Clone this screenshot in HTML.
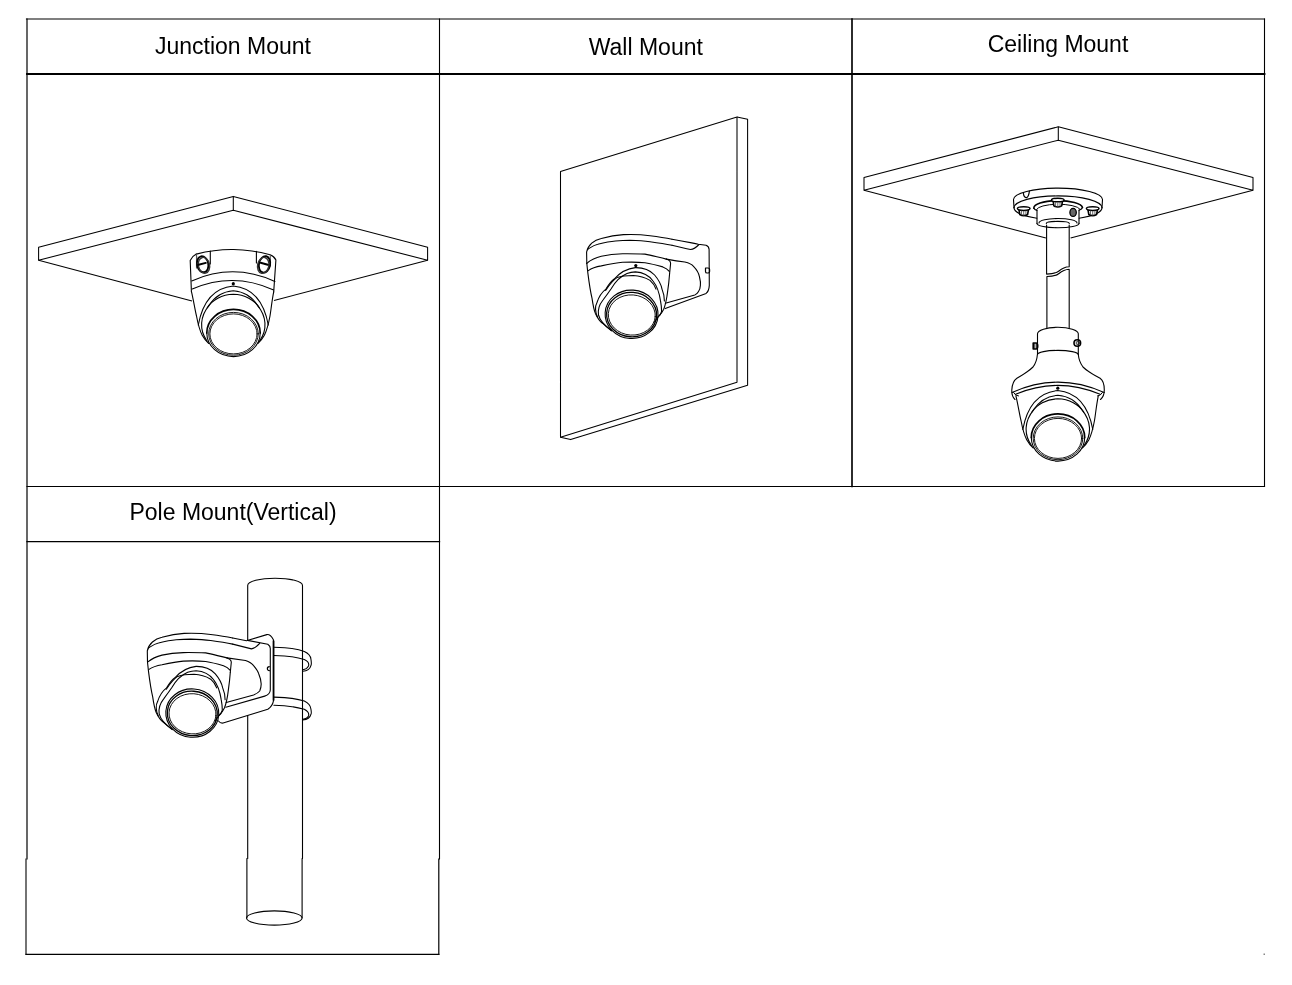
<!DOCTYPE html>
<html><head><meta charset="utf-8">
<style>
html,body{margin:0;padding:0;background:#fff;width:1292px;height:985px;overflow:hidden}
svg{position:absolute;left:0;top:0}
text{font-family:"Liberation Sans",sans-serif;font-size:23px;fill:#000}
.txt{will-change:transform}
</style></head><body>
<svg width="1292" height="985" viewBox="0 0 1292 985">
<g fill="none" stroke="#000" stroke-linecap="square">
<!-- table -->
<line x1="26.5" y1="19" x2="1264.5" y2="19" stroke-width="1.15"/>
<line x1="27" y1="19" x2="27" y2="859" stroke-width="1.2"/>
<line x1="26" y1="859" x2="26" y2="954.3" stroke-width="1.1"/>
<line x1="439.5" y1="19" x2="439.5" y2="859" stroke-width="1.1"/>
<line x1="438.8" y1="859" x2="438.8" y2="954.3" stroke-width="1.2"/>
<line x1="852" y1="19" x2="852" y2="486.5" stroke-width="1.65"/>
<line x1="1264.5" y1="19" x2="1264.5" y2="486.5" stroke-width="1.1"/>
<line x1="27" y1="74" x2="1264.5" y2="74" stroke-width="1.85"/>
<line x1="27" y1="486.5" x2="1264.5" y2="486.5" stroke-width="1.1"/>
<line x1="27" y1="541.7" x2="439.5" y2="541.7" stroke-width="1.3"/>
<line x1="26" y1="954.3" x2="438.8" y2="954.3" stroke-width="1.2"/>
</g>
<g class="txt"><text x="233" y="54" text-anchor="middle">Junction Mount</text>
<text x="645.8" y="54.5" text-anchor="middle">Wall Mount</text>
<text x="1058" y="52.2" text-anchor="middle">Ceiling Mount</text>
<text x="233" y="520" text-anchor="middle">Pole Mount(Vertical)</text></g>
<rect x="1263.5" y="953.5" width="1.5" height="1.5" fill="#888"/>

<g id="plates" fill="none" stroke="#000" stroke-width="1.05" stroke-linejoin="round">
<!-- junction plate -->
<path d="M38.6,260.3 L38.6,247.3 L233.3,196.4 L427.6,247.3 L427.6,260.3 L233.3,210.2 Z"/>
<path d="M233.3,196.4 V210.2"/>
<path d="M38.6,260.3 L192,301"/>
<path d="M427.6,260.3 L274,300.5"/>
<!-- wall plate -->
<path d="M560.5,437.3 V171.5 L737,117 V382.3 Z"/>
<path d="M737,117 L747.6,119.2 V385.2 L570.6,439.6 L560.5,437.3"/>
<!-- ceiling plate -->
<path d="M864,190.3 V177.5 L1058.3,126.8 L1253,177.5 V190.3 L1058.3,140.2 Z"/>
<path d="M1058.3,126.8 V140.2"/>
<path d="M864,190.3 L1045.9,237.9"/>
<path d="M1253,190.3 L1070.6,237.9"/>
</g>

<g id="cam1" fill="none" stroke="#000" stroke-width="1.1" stroke-linecap="round" stroke-linejoin="round">
<!-- junction box -->
<path d="M191.4,291.3 L190.2,260.5 Q192,256.3 196.3,254.1 Q215,249.2 233.6,249.5 Q252,249.8 270.1,254.7 Q274.5,256.5 275.9,260 L273.7,291.9"/>
<path d="M196.3,254.1 L197,260"/>
<path d="M210.3,251.1 V264"/>
<path d="M256.4,251.4 V263"/>
<path d="M270.3,254.8 V266" stroke="#555"/>
<path d="M196.5,254.5 V268" stroke="#555"/>
<ellipse cx="202.7" cy="264.3" rx="5.6" ry="8.1" transform="rotate(-12 202.7 264.3)" stroke-width="1.9"/>
<ellipse cx="204" cy="265.3" rx="5.6" ry="8" transform="rotate(-12 204 265.3)" stroke-width="1.4" stroke="#333"/>
<path d="M198.6,264.8 L205.8,262.9" stroke-width="2"/>
<ellipse cx="264.5" cy="264.4" rx="5.6" ry="8.3" transform="rotate(12 264.5 264.4)" stroke-width="1.9"/>
<ellipse cx="263.2" cy="265.4" rx="5.6" ry="8.1" transform="rotate(12 263.2 265.4)" stroke-width="1.4" stroke="#333"/>
<path d="M260.6,262.8 L267.8,264.7" stroke-width="2"/>
<!-- band -->
<path d="M191.7,280.9 Q233.5,262.4 274.9,281.5"/>
<path d="M192.3,288.9 Q233.4,271.5 273.7,290"/>
<g id="eye1">
<circle cx="233.3" cy="283.7" r="1.6" fill="#000" stroke="none"/>
<!-- body -->
<path d="M191.4,291.3 C193.5,300 195,310 196.5,316 C198,324 200,331 202.2,335.2 C204,338.5 206,341 208.8,343.5"/>
<path d="M273.7,291.9 C272,300 271,310 270,316 C268.5,324 266.5,331 264.4,335.2 C262.6,338.5 260.6,341 257.8,343.5"/>
<!-- eyeball arcs -->
<path d="M198.3,325 C202,305 212,288 233.3,286 C254.6,288 264.6,305 268.3,325"/>
<path d="M207,341 C199,330 200,316 209.2,305.3 C215,296 224,291.5 233.3,290.8 C242.6,291.5 251.6,296 257.4,305.3 C266.6,316 267.6,330 259.6,341"/>
<path d="M207.2,307.7 C212,300 222,294.5 233.3,294.3 C244.6,294.5 254.6,300 259.4,307.7"/>
<!-- lens -->
<path d="M206.8,333 A26.7,23.6 0 0 1 260.2,333" stroke-width="1.7"/>
<path d="M206.8,333 A26.7,23.6 0 0 0 260.2,333" stroke-width="1.1"/>
<ellipse cx="233.5" cy="333.8" rx="24.8" ry="21.4" stroke-width="0.9"/>
<ellipse cx="233.5" cy="333.9" rx="23.6" ry="20" stroke-width="0.9"/>
</g>
</g>

<g fill="none" stroke="#000" stroke-width="1.1" stroke-linecap="round" stroke-linejoin="round">
<g id="dome2">
<path d="M586.8,263.4 L586.6,252 C588,245 594,240 601.3,238.5 C610,236 616,235 623.4,234.6 C635,234.2 645,235 650,235.7 C660,237 666,238 672,239.2"/>
<path d="M587.8,249.2 C592,246.5 594,245 597.8,244.2 C605,242.5 610,241.5 615.5,241 C622,240.4 625,240.3 629.8,240.3 C638,240.5 645,241 650,241.7 C660,243 666,244 672,245.3"/>
<path d="M586.8,263.4 C592,259 596,257.5 601.3,256.3 C608,254.8 615,254 622.6,253.8 C632,253.6 640,254 645,254.1 C652,255.5 659,257.5 666.3,259.1"/>
<path d="M666.3,259.1 Q670.6,260.5 670.6,263.5 L669.6,273.5"/>
<path d="M588.3,270.6 C592,268 596,266.8 601.3,265.9 C610,264 616,262.8 622.6,262.3 C632,261.9 640,262.2 645,262.7 C652,263.8 658,265.5 662.8,266.9 Q667,268.5 669.3,271.4"/>
<path d="M586.8,263.4 L587.8,272.6 C589,282 590.5,292 592,298.1 C593,305 594,310 595.4,313.4 C597.5,318 599.5,321 602.4,323.2 L611.5,330.8"/>
<path d="M669.6,273.5 C668.8,285 667.5,292 667,296 C666,302 665,306 663.7,309.2 C662,313 660,315 658.1,316.9 L654.6,321.8"/>
<path d="M597.5,316.9 C595,312 595,306 596.8,303 C599,296 602,292 605.9,289.1 C609,284 611,281 614.2,279 C620,272.5 627,268.5 635.4,267.6 C644,267.5 650,270 654.6,275 C658,279 661,284 662,289.1 C664,294 664.5,298 664.4,300.9"/>
<path d="M611.5,330.5 C605,326 600,321 598.5,315 C597.5,309 599,305 603,300 C606,296 609,292 611,289 C615,282 620,276.5 627,273.5 C630,272.3 633,271.9 635.4,271.9 C643,272.3 649,275.5 653,281 C657,286 659.5,294 660.5,300.9 C661.7,307 661.6,311 661.6,311.3 C661,314 659.5,316 658.1,316.9"/>
<path d="M605.6,290.4 C610,284 613,280 617,277.6 C622,275.8 627,275.5 633.3,275.5 C640,275.8 646,278 650,280.4 C653,283 655,286 656,289.1"/>
<ellipse cx="631.6" cy="314.3" rx="26.5" ry="24.2" transform="rotate(4 631.6 314.3)"/>
<ellipse cx="631.6" cy="314.6" rx="25" ry="22.2" transform="rotate(4 631.6 314.6)" stroke-width="1.3"/>
<ellipse cx="631.8" cy="315" rx="23.5" ry="20.1" transform="rotate(4 631.8 315)" stroke-width="0.9"/>
</g>
<!-- wall bracket -->
<path d="M672,239.2 C685,241.5 690,242.6 698.3,244.2 L706.1,245.3 Q709,246.5 709.1,249.5 L709.3,285.4 Q709,291 706.1,293.4 L665.2,308.6"/>
<path d="M672,245.3 C680,247 685,248.5 690.5,249.5 Q694.5,249.2 699,244.5"/>
<path d="M666.3,259.1 C675,260.8 680,261.5 684.8,262 C689,263 692,264.5 693.3,266.2 C697,270 699,274 699.5,277 C700.5,281 700.6,284 700.4,285.4 C700.2,289 699.5,290.5 698.3,291.8 C697.5,293.5 696,294.3 694.8,295 L665.3,303.2"/>
<circle cx="635.8" cy="265.6" r="1.6" fill="#000" stroke="none"/>
<path d="M705.5,268 h2.5 q1.6,0 1.6,1.6 v1.8 q0,1.6 -1.6,1.6 h-0.9 q-1.6,0 -1.6,-1.6 z" stroke-width="1.2"/>
</g>
<!-- pole mount -->
<g fill="none" stroke="#000" stroke-width="1.1" stroke-linecap="round" stroke-linejoin="round">
<!-- pole -->
<path d="M247.7,639.9 V585.4 A27.4,7.2 0 0 1 302.5,585.4 V858.5"/>
<path d="M247.7,715.5 V858.5"/>
<path d="M246.9,858.5 V917.8 M302.1,858.5 V917.8"/>
<ellipse cx="274.3" cy="918" rx="27.8" ry="7.1"/>
<use href="#dome2" transform="translate(-439.3,398.8)"/>
<!-- bracket -->
<path d="M232.7,638 L246.5,640.7 L266.8,634.6 Q270.3,634 273.4,639.7 V701.1 Q272.5,706 267.8,709.3 L223.1,723 Q220.5,723.5 218.5,721"/>
<path d="M247.5,640.4 L267.8,644.3 Q270.3,646 270.3,648.4 V690 Q270,694.5 264.7,696.1 L225.8,707.2"/>
<path d="M232.7,644.1 L251.5,648.9 Q255.6,648 259.7,643.3"/>
<path d="M227,657.9 L245.5,660.5 C250,662 252,663.5 253.6,665.6 C256,668.5 258,671 258.7,673.7 C260.5,678 261.2,681 261.2,683.9 C261.2,687 260.5,689 259.7,691 C258,693 256,694 253.6,695 L226.2,702.5"/>
<path d="M269.3,666.7 a2,2 0 1 0 0.1,4" stroke-width="1.2"/>
<path d="M273.6,641 V700" stroke-width="1.7"/>
<!-- straps -->
<path d="M273.9,647.3 C290,647.5 298,649 304.3,651.4 C308,653 310.5,655 310.9,659 C311.5,662.5 311.3,665 310.9,665.6 C310,669 307.5,671 302.8,671.2"/>
<path d="M273.9,655.5 C290,655.5 298,657.5 304.3,659.5 C307.5,661 309.5,663 308.5,666 C307.5,668 305,669.5 302.8,669.7"/>
<path d="M273.9,697.1 C290,697.3 298,699 304.3,701.1 C308,703 310.5,705 310.9,709 C311.5,712.5 311.3,714 310.9,714.3 C310,718 307.5,719.5 302.8,719.9"/>
<path d="M273.9,705.2 C290,705.3 298,707.5 304.3,709.3 C307.5,711 309.5,713 308.5,716 C307.5,718 305,719 302.8,719.3"/>
</g>

<!-- ceiling mount -->
<g fill="none" stroke="#000" stroke-width="1.1" stroke-linecap="round" stroke-linejoin="round">
<!-- flange -->
<path d="M1013.5,199.6 A44.5,11.5 0 0 1 1102.5,199.6"/>
<path d="M1013.5,199.6 L1014,207.8 M1102.5,199.6 L1102,207.8"/>
<path d="M1014,207.8 A44,11.9 0 0 1 1102,207.8"/>
<path d="M1014,207.8 A44,11.9 0 0 0 1036.9,218.2 M1079.1,218.2 A44,11.9 0 0 0 1102,207.8"/>
<path d="M1023.4,193.3 Q1024,197.8 1026.6,197.6 Q1028.6,197.3 1029.4,191.2" stroke-width="1.2"/>
<!-- boss -->
<path d="M1033.9,208.3 A24.3,7.3 0 0 1 1082.5,207.5" stroke-width="1.6"/>
<path d="M1036.5,209.5 A21.8,5.6 0 0 1 1079.8,209" stroke-width="1"/>
<path d="M1033.9,208.3 Q1034.5,209.8 1036.9,210.5 M1082.5,207.5 Q1082,209.3 1079.1,210.3"/>
<path d="M1037,210 V223.4 M1079,210 V223.4"/>
<path d="M1037,223.4 A21,4.3 0 0 0 1079,223.4"/>
<path d="M1039,223 A19,4.5 0 0 1 1077,223"/>
<!-- nuts -->
<g fill="#fff">
<path d="M1019,209.8 L1019.8,214.5 Q1023.7,216.8 1027.6,214.5 L1028.4,209.8" stroke-width="1.6"/>
<ellipse cx="1023.7" cy="208.6" rx="6.3" ry="1.8" stroke-width="1.5"/>
<path d="M1053.1,201.2 L1053.9,205.9 Q1057.8,208.2 1061.7,205.9 L1062.5,201.2" stroke-width="1.6"/>
<ellipse cx="1057.8" cy="200" rx="6.3" ry="1.8" stroke-width="1.5"/>
<path d="M1088,209.8 L1088.8,214.5 Q1092.7,216.8 1096.6,214.5 L1097.4,209.8" stroke-width="1.6"/>
<ellipse cx="1092.7" cy="208.6" rx="6.3" ry="1.8" stroke-width="1.5"/>
</g>
<path d="M1021.5,211 v3.5 M1023.7,211.5 v3.8 M1025.9,211 v3.5 M1055.6,202.5 v3.5 M1057.8,203 v3.8 M1060,202.5 v3.5 M1090.5,211 v3.5 M1092.7,211.5 v3.8 M1094.9,211 v3.5" stroke="#444" stroke-width="0.8"/>
<ellipse cx="1073.1" cy="212.4" rx="3.2" ry="4" fill="#666" stroke-width="1.3"/>
<!-- pole -->
<path d="M1046.3,223.4 A11.5,2 0 0 1 1069.3,223.4"/>
<path d="M1046.6,225 V274.1 C1052,273.9 1056,273.5 1059,271 C1062.5,268 1065,267 1069.2,266.8 V225"/>
<path d="M1046.9,276.5 C1052,276.4 1056,276 1059,273.5 C1062.5,270.5 1065,269.4 1069.2,269.2 V327.7 M1046.9,276.5 V327.7"/>
<!-- adapter -->
<path d="M1037.5,354.5 V333.8 A20.4,6.5 0 0 1 1078.3,333.8 V354.5"/>
<path d="M1037.5,354.5 A20.4,4.1 0 0 1 1078.3,354.5"/>
<path d="M1037.4,354.5 C1037,360 1036,363 1033,367 C1030,370 1026,373 1016.9,378.3 C1013,381 1012,386 1011.8,390 C1011.6,394 1012.5,397 1015,399.5"/>
<path d="M1078.3,354.5 C1078.8,360 1080,363 1083,367 C1086,370 1090,373 1100.1,378.3 C1104,381 1104.3,386 1104.3,390 C1104.3,394 1103.5,397 1100.5,399.5"/>
<path d="M1012,392.5 Q1057.8,371.8 1104.2,392.5"/>
<path d="M1015.6,394.3 Q1057.8,376.5 1100.1,394.3"/>
<path d="M1013.5,392.5 Q1015.5,396 1018.5,396 M1102.5,392.5 Q1100.5,396 1097.5,396" stroke-width="1"/>
<path d="M1033.2,343 h3 q1.5,0 1.5,3 q0,3 -1.5,3 h-3 z" stroke-width="1.6" fill="#444"/><path d="M1035.3,344.2 v3.6" stroke="#ddd" stroke-width="0.9"/>
<circle cx="1077.3" cy="343" r="3.3" stroke-width="1.6"/>
<circle cx="1077.8" cy="343" r="1.7" fill="none" stroke="#222" stroke-width="0.9"/>
<use href="#eye1" transform="translate(824.5,104.5)"/>
</g>
</svg>
</body></html>
